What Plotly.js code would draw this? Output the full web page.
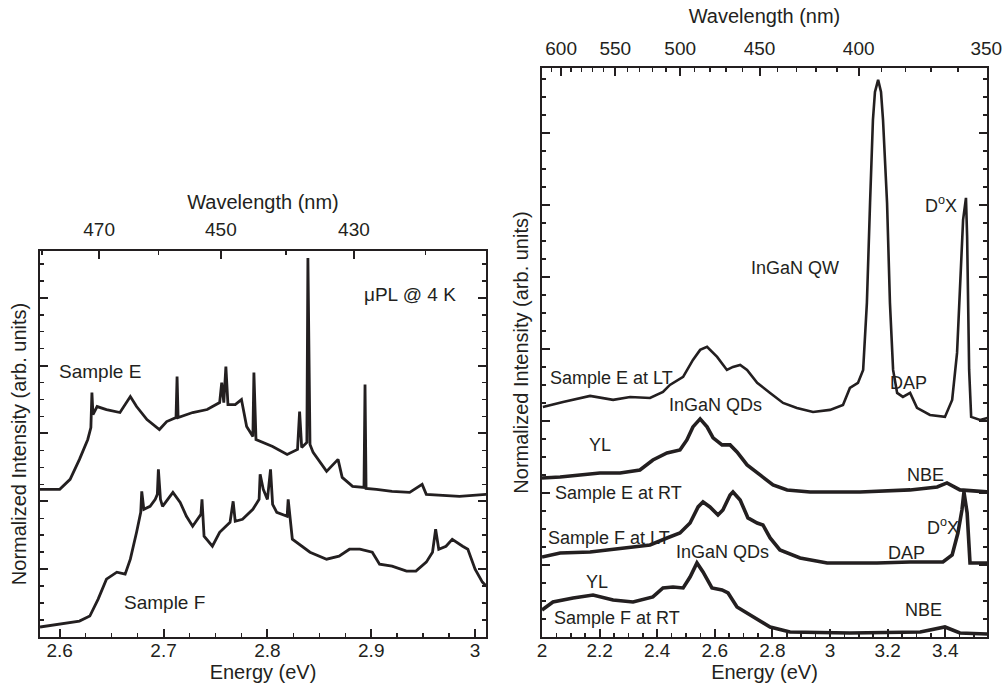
<!DOCTYPE html>
<html>
<head>
<meta charset="utf-8">
<script src="https://cdn.plot.ly/plotly-3.0.1.min.js"></script>
<style>html,body{margin:0;padding:0;background:#fff;}#chart{width:1004px;height:685px;}</style>
</head>
<body>
<div id="chart"></div>
<script>
// ---------- Left panel: µPL @ 4 K ----------
const leftSampleE_energy = [2.581,2.600,2.610,2.619,2.627,2.630,2.631,2.632,2.636,2.645,2.658,2.668,2.674,2.684,2.696,2.703,2.712,2.713,2.714,2.728,2.742,2.754,2.756,2.758,2.760,2.762,2.769,2.775,2.780,2.786,2.787,2.789,2.805,2.819,2.829,2.831,2.833,2.838,2.839,2.841,2.844,2.857,2.868,2.872,2.882,2.893,2.894,2.895,2.905,2.920,2.937,2.949,2.953,2.985,3.011];
const leftSampleE_intensity = [2.176,2.176,2.324,2.618,2.912,3.088,3.603,3.279,3.397,3.353,3.309,3.544,3.397,3.206,3.059,3.176,3.235,3.838,3.235,3.309,3.353,3.456,3.750,3.456,3.985,3.426,3.426,3.500,3.103,2.956,3.897,2.912,2.809,2.691,2.765,3.324,2.794,2.868,5.588,2.838,2.721,2.441,2.618,2.353,2.221,2.206,3.721,2.191,2.176,2.147,2.132,2.250,2.103,2.074,2.103];

const leftSampleF_energy = [2.581,2.600,2.619,2.629,2.637,2.645,2.655,2.663,2.668,2.674,2.678,2.679,2.681,2.687,2.692,2.694,2.695,2.697,2.699,2.709,2.716,2.722,2.728,2.736,2.737,2.739,2.747,2.754,2.764,2.767,2.769,2.776,2.786,2.792,2.793,2.796,2.800,2.803,2.805,2.809,2.819,2.820,2.822,2.824,2.841,2.857,2.869,2.879,2.889,2.901,2.908,2.920,2.934,2.943,2.953,2.959,2.962,2.965,2.972,2.978,2.988,2.993,3.000,3.007,3.011];
const leftSampleF_intensity = [0.147,0.191,0.235,0.309,0.559,0.853,0.956,0.926,1.147,1.544,1.838,2.147,1.882,1.926,2.029,2.103,2.471,2.029,1.926,2.132,1.985,1.779,1.632,1.809,2.029,1.485,1.338,1.544,1.691,2.000,1.706,1.735,1.882,2.029,2.397,2.176,2.029,2.471,1.956,1.838,1.779,2.029,1.735,1.441,1.250,1.147,1.191,1.294,1.294,1.250,1.074,1.044,0.971,0.971,1.103,1.250,1.588,1.294,1.338,1.441,1.338,1.294,1.000,0.809,0.750];

const leftEnergyTicks = [2.6,2.7,2.8,2.9,3];
const leftEnergyLabels = ['2.6','2.7','2.8','2.9','3'];
const leftWavelengthTicks = [470,450,430];
const leftWavelengthMinor = [480,460,440,420];

// ---------- Right panel: LT / RT spectra ----------
const sampleELT_energy = [2.003,2.073,2.167,2.247,2.306,2.375,2.420,2.444,2.490,2.524,2.549,2.573,2.608,2.642,2.663,2.688,2.712,2.747,2.792,2.837,2.885,2.941,3.000,3.045,3.069,3.097,3.115,3.128,3.139,3.149,3.156,3.167,3.177,3.184,3.198,3.208,3.219,3.233,3.253,3.278,3.302,3.347,3.399,3.424,3.441,3.451,3.462,3.472,3.476,3.483,3.490,3.521,3.549];
const sampleELT_intensity = [3.194,3.264,3.347,3.292,3.333,3.319,3.403,3.500,3.611,3.847,3.986,4.028,3.889,3.708,3.750,3.778,3.708,3.528,3.389,3.250,3.181,3.125,3.153,3.222,3.458,3.528,3.708,4.639,6.028,7.181,7.569,7.736,7.569,7.181,6.028,4.639,3.708,3.389,3.333,3.389,3.181,3.083,3.056,3.292,3.944,4.861,5.792,6.097,5.556,3.708,3.056,3.014,3.042];

const sampleERT_energy = [2.000,2.063,2.132,2.201,2.271,2.340,2.385,2.434,2.479,2.503,2.524,2.549,2.573,2.594,2.625,2.653,2.677,2.712,2.757,2.802,2.851,2.931,3.104,3.278,3.372,3.406,3.451,3.549];
const sampleERT_intensity = [2.208,2.222,2.250,2.278,2.278,2.319,2.458,2.556,2.597,2.736,2.917,3.028,2.917,2.764,2.667,2.667,2.569,2.389,2.250,2.111,2.042,2.014,2.014,2.042,2.083,2.139,2.042,2.014];

const sampleFLT_energy = [2.000,2.063,2.167,2.281,2.375,2.434,2.479,2.514,2.542,2.559,2.583,2.611,2.628,2.653,2.663,2.688,2.715,2.747,2.767,2.792,2.826,2.896,2.990,3.163,3.278,3.392,3.424,3.444,3.458,3.465,3.476,3.486,3.549];
const sampleFLT_intensity = [1.111,1.167,1.181,1.236,1.278,1.375,1.444,1.583,1.806,1.875,1.806,1.694,1.764,1.972,2.014,1.903,1.653,1.583,1.556,1.375,1.208,1.097,1.028,1.028,1.042,1.042,1.139,1.444,1.764,2.014,1.722,1.028,1.028];

const sampleFRT_energy = [2.000,2.038,2.108,2.177,2.247,2.316,2.385,2.420,2.455,2.490,2.514,2.538,2.559,2.590,2.625,2.646,2.677,2.712,2.747,2.792,2.861,3.069,3.313,3.399,3.451,3.549];
const sampleFRT_intensity = [0.375,0.486,0.542,0.583,0.514,0.486,0.556,0.681,0.694,0.681,0.833,1.028,0.903,0.681,0.653,0.611,0.417,0.333,0.236,0.139,0.069,0.056,0.069,0.139,0.056,0.042];

const rightEnergyTicks = [2,2.2,2.4,2.6,2.8,3,3.2,3.4];
const rightEnergyLabels = ['2','2.2','2.4','2.6','2.8','3','3.2','3.4'];
const rightWavelengthTicks = [600,550,500,450,400,350];
const rightWavelengthMinor = [610,590,580,570,560,540,530,520,510,490,480,470,460,440,430,420,410,390,380,370,360];

// ---------- helpers ----------
const HC = 1239.84; // eV·nm
const toE = w => HC / w;

const INK = '#231f20';
const FONT = 'Liberation Sans, Arial, Helvetica, sans-serif';

function trace(x, y, xa, ya, w) {
  return {x: x, y: y, xaxis: xa, yaxis: ya, type: 'scatter', mode: 'lines',
          line: {color: INK, width: w || 2.8}, hoverinfo: 'skip', showlegend: false};
}
// invisible carriers so the top (wavelength) axes get drawn
function carrier(x, y, xa, ya) {
  return {x: x, y: y, xaxis: xa, yaxis: ya, type: 'scatter', mode: 'none',
          hoverinfo: 'skip', showlegend: false};
}

const data = [
  trace(leftSampleE_energy, leftSampleE_intensity, 'x', 'y', 2.8),
  trace(leftSampleF_energy, leftSampleF_intensity, 'x', 'y', 2.8),
  trace(sampleELT_energy, sampleELT_intensity, 'x2', 'y2', 2.6),
  trace(sampleERT_energy, sampleERT_intensity, 'x2', 'y2', 3.6),
  trace(sampleFLT_energy, sampleFLT_intensity, 'x2', 'y2', 3.6),
  trace(sampleFRT_energy, sampleFRT_intensity, 'x2', 'y2', 3.6),
  carrier(leftSampleE_energy, leftSampleE_intensity, 'x3', 'y'),
  carrier(sampleELT_energy, sampleELT_intensity, 'x4', 'y2')
];

const W = 1004, H = 685;
const Ldom = [40 / W, 486 / W], LdomY = [(H - 637) / H, (H - 251) / H];
const Rdom = [542 / W, 987 / W], RdomY = [(H - 637) / H, (H - 68) / H];

const commonAxis = {
  showgrid: false, zeroline: false, showline: true, linecolor: INK, linewidth: 2,
  ticks: 'inside', tickcolor: INK, tickwidth: 2, ticklen: 8,
  tickfont: {family: FONT, size: 19, color: INK}
};
const titleFont = {family: FONT, size: 20, color: INK};
const minorLin = (t0, dt) => ({tickmode: 'linear', tick0: t0, dtick: dt, ticks: 'inside', ticklen: 4, tickcolor: INK, tickwidth: 1.5});
const minorArr = vals => ({tickmode: 'array', tickvals: vals, ticks: 'inside', ticklen: 4, tickcolor: INK, tickwidth: 1.5});

const LRANGE = [2.581, 3.0105];
const RRANGE = [2.0, 3.545];

const layout = {
  width: W, height: H,
  margin: {l: 0, r: 0, t: 0, b: 0},
  paper_bgcolor: '#fff', plot_bgcolor: '#fff',
  font: {family: FONT, color: INK},
  xaxis: Object.assign({}, commonAxis, {
    domain: Ldom, range: LRANGE, anchor: 'y', mirror: true,
    tickmode: 'array', tickvals: leftEnergyTicks, ticktext: leftEnergyLabels,
    ticklabelstandoff: -5,
    minor: minorLin(2.6, 0.025),
    title: {text: 'Energy (eV)', font: titleFont, standoff: 2}
  }),
  xaxis3: Object.assign({}, commonAxis, {
    overlaying: 'x', side: 'top', anchor: 'y', range: LRANGE,
    tickmode: 'array', tickvals: leftWavelengthTicks.map(toE), ticktext: leftWavelengthTicks.map(String),
    ticklabelstandoff: 5,
    minor: minorArr(leftWavelengthMinor.map(toE)),
    title: {text: 'Wavelength (nm)', font: titleFont, standoff: 4}
  }),
  yaxis: Object.assign({}, commonAxis, {
    domain: LdomY, range: [0, 5.69], anchor: 'x', mirror: 'ticks',
    tick0: 0, dtick: 1, showticklabels: false,
    minor: minorLin(0, 0.25),
    title: {text: 'Normalized Intensity (arb. units)', font: titleFont, standoff: 6}
  }),
  xaxis2: Object.assign({}, commonAxis, {
    domain: Rdom, range: RRANGE, anchor: 'y2', mirror: true,
    tickmode: 'array', tickvals: rightEnergyTicks, ticktext: rightEnergyLabels,
    ticklabelstandoff: -5,
    minor: minorLin(2, 0.05),
    title: {text: 'Energy (eV)', font: titleFont, standoff: 2}
  }),
  xaxis4: Object.assign({}, commonAxis, {
    overlaying: 'x2', side: 'top', anchor: 'y2', range: RRANGE,
    tickmode: 'array', tickvals: rightWavelengthTicks.map(toE), ticktext: rightWavelengthTicks.map(String),
    ticklabelstandoff: 3,
    minor: minorArr(rightWavelengthMinor.map(toE)),
    title: {text: 'Wavelength (nm)', font: titleFont, standoff: 9}
  }),
  yaxis2: Object.assign({}, commonAxis, {
    domain: RdomY, range: [0, 7.9], anchor: 'x2', mirror: 'ticks',
    tick0: 0, dtick: 1, showticklabels: false,
    minor: minorLin(0, 0.25),
    title: {text: 'Normalized Intensity (arb. units)', font: titleFont, standoff: 6}
  }),
  annotations: []
};

function ann(text, x, y, xr, yr, anchor, size) {
  return {text: text, x: x, y: y, xref: xr, yref: yr, showarrow: false,
          xanchor: anchor || 'center', yanchor: 'middle',
          font: {family: FONT, size: size || 18, color: INK}};
}

layout.annotations.push(
  ann('\u03bcPL @ 4 K', 2.937, 5.044, 'x', 'y', 'center', 19),
  ann('Sample E', 2.639, 3.912, 'x', 'y', 'center', 19),
  ann('Sample F', 2.701, 0.515, 'x', 'y', 'center', 19),

  ann('Sample E at LT', 2.021, 3.597, 'x2', 'y2', 'left', 18),
  ann('InGaN QDs', 2.604, 3.222, 'x2', 'y2', 'center', 18),
  ann('YL', 2.201, 2.667, 'x2', 'y2', 'center', 18),
  ann('Sample E at RT', 2.038, 2.0, 'x2', 'y2', 'left', 18),
  ann('Sample F at LT', 2.014, 1.375, 'x2', 'y2', 'left', 18),
  ann('InGaN QDs', 2.628, 1.181, 'x2', 'y2', 'center', 18),
  ann('YL', 2.191, 0.764, 'x2', 'y2', 'center', 18),
  ann('Sample F at RT', 2.035, 0.264, 'x2', 'y2', 'left', 18),
  ann('InGaN QW', 2.878, 5.125, 'x2', 'y2', 'center', 18),
  ann('D<sup>o</sup>X', 3.385, 6.0, 'x2', 'y2', 'center', 18),
  ann('DAP', 3.271, 3.528, 'x2', 'y2', 'center', 18),
  ann('NBE', 3.330, 2.25, 'x2', 'y2', 'center', 18),
  ann('D<sup>o</sup>X', 3.392, 1.528, 'x2', 'y2', 'center', 18),
  ann('DAP', 3.267, 1.167, 'x2', 'y2', 'center', 18),
  ann('NBE', 3.323, 0.375, 'x2', 'y2', 'center', 18)
);

Plotly.newPlot('chart', data, layout, {staticPlot: true, displayModeBar: false});
</script>
</body>
</html>
